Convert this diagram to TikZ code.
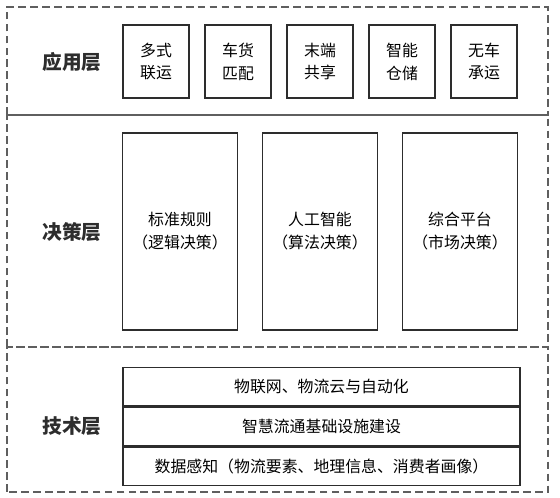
\documentclass[tikz,border=0pt]{standalone}
\usepackage{fontspec}
\setmainfont{Noto Sans CJK SC}
\usetikzlibrary{positioning}
\definecolor{framegray}{RGB}{95,95,95}
\definecolor{boxgray}{RGB}{45,45,45}

\begin{document}
\begin{tikzpicture}[
    layer/.style={draw=framegray, dash pattern=on 5.5pt off 3pt, line width=0.9pt},
    lbl/.style={font=\fontsize{14}{17}\selectfont\bfseries, text=boxgray},
    app/.style={rectangle, draw=boxgray, line width=0.8pt, minimum width=1.65cm,
                minimum height=1.825cm, align=center, font=\fontsize{11.3}{16.3}\selectfont},
    dec/.style={app, minimum width=2.89cm, minimum height=4.925cm},
    tech/.style={rectangle, draw=boxgray, line width=0.8pt, minimum width=9.925cm,
                 minimum height=0.97cm, inner sep=0pt, align=center, font=\fontsize{11.3}{16.3}\selectfont}
]
    \useasboundingbox (0,0) rectangle (14,12.45);
    % layers
    \draw[layer] (0.175,9.575) rectangle (13.7,12.275);
    \draw[layer] (0.175,3.775) rectangle (13.7,9.575);
    \draw[layer] (0.175,0.15) rectangle (13.7,3.775);

    \node[lbl] (applbl) at (1.8,10.9) {应用层};
    \node[lbl] (declbl) at (1.8,6.65) {决策层};
    \node[lbl] (techlbl) at (1.8,1.8) {技术层};

    % application layer
    \node[app] (dslx) at (3.9,10.9125) {多式\\联运};
    \node[app] (chpp) at (5.95,10.9125) {车货\\匹配};
    \node[app] (mdgx) at (8.0,10.9125) {末端\\共享};
    \node[app] (zncc) at (10.05,10.9125) {智能\\仓储};
    \node[app] (wccy) at (12.1,10.9125) {无车\\承运};

    % decision layer
    \node[dec] (bzgz) at (4.5,6.6625) {标准规则\\（逻辑决策）};
    \node[dec] (rgzn) at (8.0,6.6625) {人工智能\\（算法决策）};
    \node[dec] (zhpt) at (11.5,6.6625) {综合平台\\（市场决策）};

    % technology layer
    \node[tech] (wlw) at (8.0375,2.785) {物联网、物流云与自动化};
    \node[tech, below=0pt of wlw] (zhlt) {智慧流通基础设施建设};
    \node[tech, below=0pt of zhlt] (sjgz) {数据感知（物流要素、地理信息、消费者画像）};
\end{tikzpicture}
\end{document}
